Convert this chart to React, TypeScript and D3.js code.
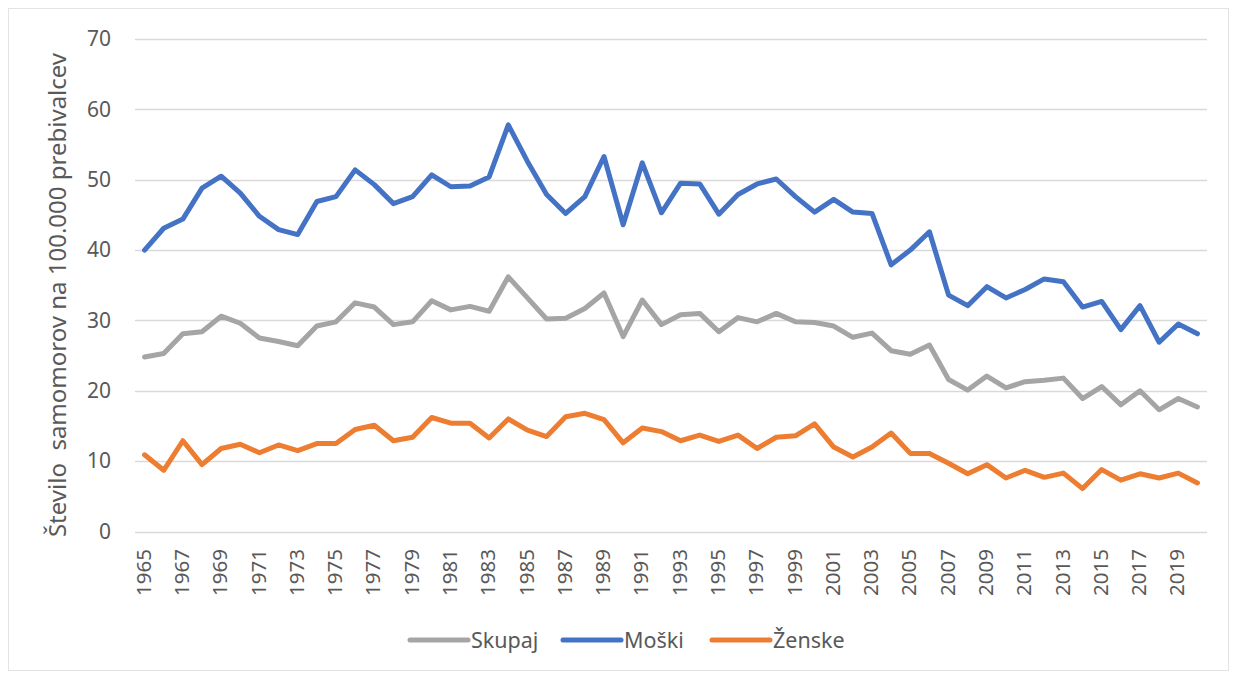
import { useEffect, useRef } from 'react';
import * as d3 from 'd3';

// Years 1965–2020
const years = d3.range(1965, 2021);

const skupaj = [
  24.8, 25.3, 28.1, 28.4, 30.6, 29.6, 27.5, 27.0, 26.4, 29.2,
  29.8, 32.5, 31.9, 29.4, 29.8, 32.8, 31.5, 32.0, 31.3, 36.2,
  33.2, 30.2, 30.3, 31.7, 33.9, 27.7, 32.9, 29.4, 30.8, 31.0,
  28.4, 30.4, 29.8, 31.0, 29.8, 29.7, 29.2, 27.6, 28.2, 25.7,
  25.2, 26.5, 21.6, 20.1, 22.1, 20.4, 21.3, 21.5, 21.8, 18.9,
  20.6, 18.0, 20.0, 17.3, 18.9, 17.7
];

const moski = [
  40.0, 43.1, 44.4, 48.8, 50.5, 48.1, 44.8, 42.9, 42.2, 46.9,
  47.6, 51.4, 49.3, 46.6, 47.6, 50.7, 49.0, 49.1, 50.4, 57.8,
  52.6, 47.9, 45.2, 47.6, 53.3, 43.6, 52.4, 45.3, 49.5, 49.4,
  45.1, 47.9, 49.4, 50.1, 47.6, 45.4, 47.2, 45.4, 45.2, 37.9,
  40.0, 42.6, 33.6, 32.1, 34.8, 33.2, 34.4, 35.9, 35.5, 31.9,
  32.7, 28.7, 32.1, 26.9, 29.5, 28.1
];

const zenske = [
  10.9, 8.7, 12.9, 9.5, 11.8, 12.4, 11.2, 12.3, 11.5, 12.5,
  12.5, 14.5, 15.1, 12.9, 13.4, 16.2, 15.4, 15.4, 13.3, 16.0,
  14.4, 13.5, 16.3, 16.8, 15.9, 12.6, 14.7, 14.2, 12.9, 13.7,
  12.8, 13.7, 11.8, 13.4, 13.6, 15.3, 12.0, 10.6, 12.0, 14.0,
  11.1, 11.1, 9.7, 8.2, 9.5, 7.6, 8.7, 7.7, 8.3, 6.1,
  8.8, 7.3, 8.2, 7.6, 8.3, 6.9
];

const yTicks = [0, 10, 20, 30, 40, 50, 60, 70];

const series = [
  { name: 'Skupaj', values: skupaj, color: '#a5a5a5' },
  { name: 'Moški', values: moski, color: '#4472c4' },
  { name: 'Ženske', values: zenske, color: '#ed7d31' }
];

export default function App() {
  const svgRef = useRef<SVGSVGElement>(null);

  useEffect(() => {
    if (!svgRef.current) return;

    const svg = d3.select(svgRef.current);
    svg.selectAll('*').remove();

    const width = 1237;
    const height = 675;
    const font = "'Noto Sans', sans-serif";
    const textColor = '#595959';

    svg.append('rect')
      .attr('width', width)
      .attr('height', height)
      .attr('fill', 'white');

    // outer chart frame
    svg.append('rect')
      .attr('x', 8.5)
      .attr('y', 8.5)
      .attr('width', 1220)
      .attr('height', 662)
      .attr('fill', 'none')
      .attr('stroke', '#e3e3e3');

    const left = 135;
    const right = 1207;
    const top = 39;
    const bottom = 531.5;

    const x = d3.scaleBand<number>()
      .domain(years)
      .range([left, right]);

    const y = d3.scaleLinear()
      .domain([0, 70])
      .range([bottom, top]);

    // gridlines
    svg.append('g')
      .selectAll('line')
      .data(yTicks)
      .enter().append('line')
      .attr('x1', left)
      .attr('x2', right)
      .attr('y1', d => Math.round(y(d)) + 0.5)
      .attr('y2', d => Math.round(y(d)) + 0.5)
      .attr('stroke', '#d9d9d9')
      .attr('stroke-width', 1.3);

    // y tick labels
    svg.append('g')
      .selectAll('text')
      .data(yTicks)
      .enter().append('text')
      .attr('x', 111)
      .attr('y', d => y(d))
      .attr('dy', '0.35em')
      .attr('text-anchor', 'end')
      .style('font-family', font)
      .style('font-size', '21px')
      .attr('fill', textColor)
      .text(d => d);

    // x tick labels (every other year)
    const xcenter = (yr: number) => x(yr)! + x.bandwidth() / 2;
    svg.append('g')
      .selectAll('text')
      .data(years.filter(yr => (yr - 1965) % 2 === 0))
      .enter().append('text')
      .attr('transform', d => `translate(${xcenter(d) - 1},549) rotate(-90)`)
      .attr('dy', '0.35em')
      .attr('text-anchor', 'end')
      .style('font-family', font)
      .style('font-size', '20.5px')
      .attr('fill', textColor)
      .text(d => d);

    // y axis title
    svg.append('text')
      .attr('transform', `translate(66,295) rotate(-90)`)
      .attr('text-anchor', 'middle')
      .style('font-family', font)
      .style('font-size', '24px')
      .style('white-space', 'pre')
      .attr('fill', textColor)
      .text('Število  samomorov na 100.000 prebivalcev');

    // lines
    const line = d3.line<number>()
      .x((_, i) => xcenter(years[i]))
      .y(d => y(d));

    svg.append('g')
      .selectAll('path')
      .data(series)
      .enter().append('path')
      .attr('d', d => line(d.values))
      .attr('fill', 'none')
      .attr('stroke', d => d.color)
      .attr('stroke-width', 5)
      .attr('stroke-linejoin', 'round')
      .attr('stroke-linecap', 'round');

    // legend
    const legendX = [410, 563, 712];
    const legend = svg.append('g')
      .selectAll('g')
      .data(series)
      .enter().append('g')
      .attr('transform', (_, i) => `translate(${legendX[i]},640)`);

    legend.append('line')
      .attr('x1', 0)
      .attr('x2', 58)
      .attr('stroke', d => d.color)
      .attr('stroke-width', 5)
      .attr('stroke-linecap', 'round');

    legend.append('text')
      .attr('x', 61)
      .attr('dy', '0.35em')
      .style('font-family', font)
      .style('font-size', '21.5px')
      .attr('fill', textColor)
      .text(d => d.name);
  }, []);

  return (
    <svg
      ref={svgRef}
      width={1237}
      height={675}
      style={{ position: 'absolute', left: 0, top: 0 }}
    />
  );
}
